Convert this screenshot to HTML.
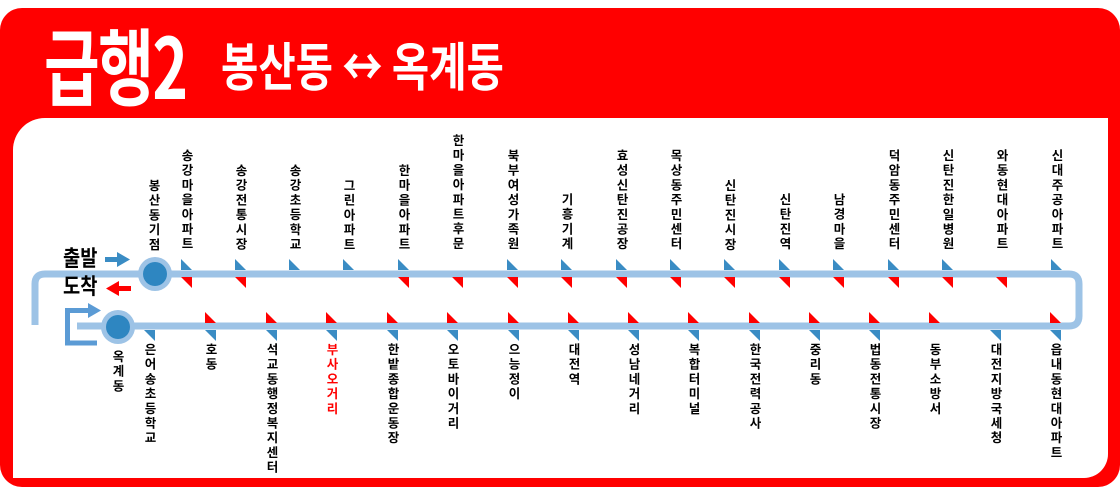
<!DOCTYPE html>
<html><head><meta charset="utf-8"><style>
*{margin:0;padding:0}
body{width:1120px;height:489px;overflow:hidden;background:#fff;position:relative;font-family:"Liberation Sans","Noto Sans CJK KR",sans-serif}
.red{position:absolute;left:0;top:8px;width:1120px;height:479px;background:#ff0000;border-radius:22px}
.panel{position:absolute;left:13px;top:118px;width:1095px;height:360px;background:#fff;border-radius:32px 0 24px 0}
.t1{position:absolute;left:44px;top:14px;color:#fff;font-weight:bold;font-size:84px;line-height:100px;letter-spacing:-2px;font-family:"Noto Sans CJK KR",sans-serif;transform:scaleX(0.72);transform-origin:0 0;white-space:nowrap}
.t2{position:absolute;left:221px;top:26px;color:#fff;font-weight:bold;font-size:52px;line-height:76px;font-family:"Noto Sans CJK KR",sans-serif;transform:scaleX(0.78);transform-origin:0 0;white-space:nowrap}
.v{position:absolute;writing-mode:vertical-rl;text-orientation:upright;font-family:"Noto Sans CJK KR",sans-serif;font-weight:bold;font-size:12.5px;letter-spacing:2.2px;line-height:14px;width:14px;color:#000}
.top{bottom:237px}
.bot{top:343px}
.lbl{position:absolute;font-family:"Noto Sans CJK KR",sans-serif;font-weight:bold;font-size:22px;line-height:24px;transform:scaleX(0.85);transform-origin:0 0}
</style></head><body>
<div class="red"></div>
<div class="panel"></div>
<div class="t1">급행2</div>
<div class="t2">봉산동 ↔ 옥계동</div>
<svg width="1120" height="489" style="position:absolute;left:0;top:0">
<path d="M35 325 V284 Q35 274 45 274 H1069 Q1079 274 1079 284 V316 Q1079 326 1069 326 H77" fill="none" stroke="#9dc3e6" stroke-width="7"/>
<path d="M67.5 343 V310.5 H95" fill="none" stroke="#5b9bd5" stroke-width="5"/>
<path d="M65 343 H97" fill="none" stroke="#5b9bd5" stroke-width="5"/>
<polygon points="88,303 101,310.5 88,318" fill="#5b9bd5"/>
<rect x="105" y="257" width="13" height="5" fill="#3a8cc4"/><polygon points="117,252 130,259.5 117,267" fill="#3a8cc4"/>
<rect x="118" y="286" width="13" height="5" fill="#ff0000"/><polygon points="119,281 106,288.5 119,296" fill="#ff0000"/>
<circle cx="155" cy="274" r="17" fill="#9dc3e6"/><circle cx="155" cy="274" r="12" fill="#2e86c1"/>
<circle cx="118" cy="327" r="17" fill="#9dc3e6"/><circle cx="118" cy="327" r="12" fill="#2e86c1"/>
<g id="tri"></g>
</svg>
<div class="lbl" style="left:63px;top:245px">출발</div>
<div class="lbl" style="left:63px;top:273px">도착</div>
<div id="labels"></div>
<script>
(function(){
var B="#3a8cc4",R="#ff0000";
var topL=[[181,"송강마을아파트",3],[235,"송강전통시장",3],[289,"송강초등학교",1],[343,"그린아파트",1],[398,"한마을아파트",3],[452,"한마을아파트후문",2],[507,"북부여성가족원",3],[561,"기흥기계",3],[616,"효성신탄진공장",3],[670,"목상동주민센터",3],[724,"신탄진시장",3],[779,"신탄진역",3],[833,"남경마을",3],[888,"덕암동주민센터",3],[942,"신탄진한일병원",3],[996,"와동현대아파트",2],[1051,"신대주공아파트",1]];
var botL=[[144,"은어송초등학교",1],[205,"호동",3],[266,"석교동행정복지센터",3],[326,"부사오거리",3],[387,"한밭종합운동장",3],[447,"오토바이거리",3],[508,"으능정이",3],[568,"대전역",3],[628,"성남네거리",3],[688,"복합터미널",3],[749,"한국전력공사",3],[809,"중리동",3],[869,"법동전통시장",3],[929,"동부소방서",2],[990,"대전지방국세청",1],[1050,"읍내동현대아파트",3]];
var s="",h="";
function P(x,y,a,c){return '<polygon points="'+a.map(function(p){return (x+p[0])+','+(y+p[1]);}).join(' ')+'" fill="'+c+'"/>';}
topL.forEach(function(t){var x=t[0];
 if(t[2]&1)s+=P(x,259,[[0,0],[11,11],[0,11]],B);
 if(t[2]&2)s+=P(x,277,[[0,0],[11,0],[11,11]],R);
 h+='<div class="v top" style="left:'+(x-1)+'px">'+t[1]+'</div>';});
botL.forEach(function(t){var x=t[0];
 if(t[2]&1)s+=P(x,330,[[0,0],[11,0],[11,11]],B);
 if(t[2]&2)s+=P(x,312,[[0,0],[11,11],[0,11]],R);
 h+='<div class="v bot" style="left:'+(x-1)+'px;'+(t[1]=="부사오거리"?'color:#ff0000':'')+'">'+t[1]+'</div>';});
h+='<div class="v top" style="left:147px">봉산동기점</div>';
h+='<div class="v" style="left:111px;top:350px">옥계동</div>';
document.getElementById('tri').innerHTML=s;
document.getElementById('labels').innerHTML=h;
})();
</script>
</body></html>
